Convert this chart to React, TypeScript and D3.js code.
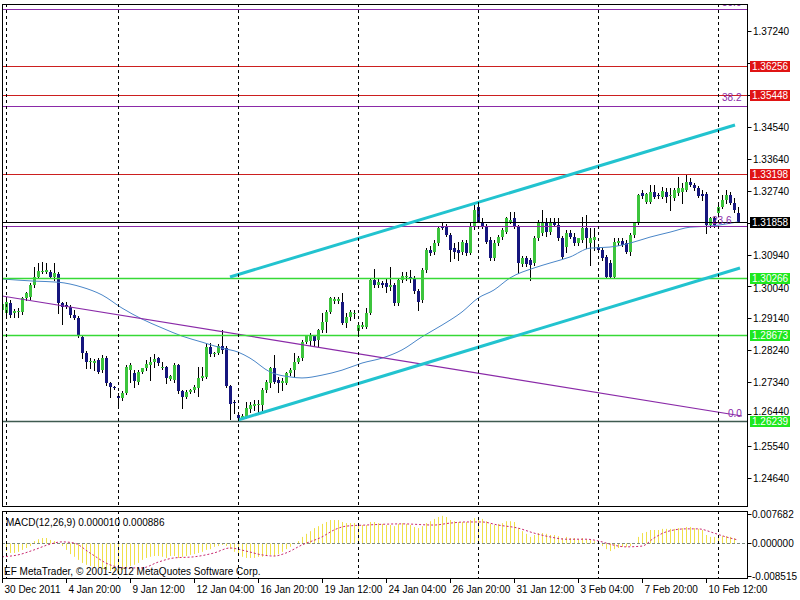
/**
 * MetaTrader-style H4 chart: candles, MA, S/R levels, fib levels, channel, MACD subwindow.
 * D3 into an svg via ref + useEffect, clear+redraw.
 */
import React, { useRef, useEffect } from 'react';
import * as d3 from 'd3';

const WIDTH = 800;
const HEIGHT = 600;
const FONT = 'Liberation Sans, Arial, sans-serif';

const MAIN = { left: 2, right: 747, top: 4, bottom: 506 };
const SUB = { top: 511, bottom: 578 };

// H4 bars, 30 Dec 2011 .. 10 Feb 2012
const barOpen = [
  1.2938, 1.2929, 1.2957, 1.2929, 1.2932, 1.2932, 1.2971, 1.2974, 1.3008, 1.3031,
  1.3047, 1.3045, 1.3045, 1.3031, 1.3039, 1.2957, 1.2952, 1.2946, 1.2924, 1.2915,
  1.2861, 1.2816, 1.2791, 1.2788, 1.2797, 1.2768, 1.2802, 1.2731, 1.2720, 1.2694,
  1.2689, 1.2703, 1.2768, 1.2760, 1.2734, 1.2762, 1.2774, 1.2782, 1.2790, 1.2802,
  1.2776, 1.2776, 1.2742, 1.2740, 1.2782, 1.2708, 1.2692, 1.2706, 1.2711, 1.2717,
  1.2745, 1.2748, 1.2833, 1.2813, 1.2816, 1.2835, 1.2830, 1.2723, 1.2678, 1.2641,
  1.2632, 1.2635, 1.2658, 1.2666, 1.2669, 1.2669, 1.2711, 1.2731, 1.2774, 1.2740,
  1.2731, 1.2731, 1.2759, 1.2768, 1.2790, 1.2802, 1.2847, 1.2850, 1.2864, 1.2852,
  1.2881, 1.2903, 1.2932, 1.2962, 1.2962, 1.2960, 1.2900, 1.2918, 1.2929, 1.2878,
  1.2889, 1.2889, 1.2929, 1.3022, 1.3008, 1.3013, 1.3013, 1.3002, 1.3008, 1.2957,
  1.3022, 1.3030, 1.3030, 1.3027, 1.2991, 1.2965, 1.3050, 1.3106, 1.3100, 1.3126,
  1.3174, 1.3171, 1.3148, 1.3112, 1.3106, 1.3100, 1.3126, 1.3098, 1.3171, 1.3227,
  1.3185, 1.3174, 1.3134, 1.3084, 1.3126, 1.3143, 1.3157, 1.3185, 1.3196, 1.3171,
  1.3067, 1.3084, 1.3078, 1.3070, 1.3140, 1.3154, 1.3185, 1.3157, 1.3185, 1.3177,
  1.3140, 1.3115, 1.3154, 1.3143, 1.3126, 1.3134, 1.3168, 1.3126, 1.3134, 1.3115,
  1.3106, 1.3087, 1.3070, 1.3030, 1.3126, 1.3132, 1.3126, 1.3100, 1.3148, 1.3182,
  1.3267, 1.3241, 1.3241, 1.3270, 1.3261, 1.3256, 1.3270, 1.3258, 1.3253, 1.3267,
  1.3270, 1.3275, 1.3298, 1.3289, 1.3281, 1.3264, 1.3264, 1.3177, 1.3196, 1.3210,
  1.3227, 1.3247, 1.3261, 1.3239, 1.3210,
];
const barHigh = [
  1.2966, 1.2974, 1.2966, 1.2940, 1.2943, 1.2974, 1.2988, 1.3014, 1.3059, 1.3070,
  1.3073, 1.3070, 1.3050, 1.3070, 1.3045, 1.2960, 1.2960, 1.2952, 1.2938, 1.2921,
  1.2867, 1.2822, 1.2802, 1.2799, 1.2802, 1.2811, 1.2808, 1.2734, 1.2723, 1.2703,
  1.2709, 1.2782, 1.2788, 1.2768, 1.2768, 1.2774, 1.2796, 1.2804, 1.2813, 1.2804,
  1.2790, 1.2779, 1.2754, 1.2787, 1.2785, 1.2711, 1.2711, 1.2714, 1.2725, 1.2776,
  1.2776, 1.2841, 1.2844, 1.2818, 1.2841, 1.2881, 1.2835, 1.2726, 1.2683, 1.2646,
  1.2644, 1.2678, 1.2678, 1.2683, 1.2683, 1.2717, 1.2740, 1.2776, 1.2810, 1.2748,
  1.2745, 1.2762, 1.2774, 1.2816, 1.2807, 1.2852, 1.2866, 1.2872, 1.2866, 1.2883,
  1.2929, 1.2938, 1.2974, 1.2974, 1.2974, 1.2985, 1.2929, 1.2937, 1.2937, 1.2900,
  1.2903, 1.2943, 1.3028, 1.3052, 1.3028, 1.3019, 1.3028, 1.3059, 1.3013, 1.3028,
  1.3044, 1.3044, 1.3050, 1.3033, 1.2996, 1.3055, 1.3112, 1.3117, 1.3134, 1.3171,
  1.3182, 1.3179, 1.3154, 1.3126, 1.3129, 1.3134, 1.3134, 1.3185, 1.3233, 1.3239,
  1.3196, 1.3179, 1.3143, 1.3134, 1.3148, 1.3168, 1.3199, 1.3213, 1.3213, 1.3177,
  1.3089, 1.3089, 1.3084, 1.3146, 1.3191, 1.3219, 1.3196, 1.3196, 1.3196, 1.3196,
  1.3146, 1.3163, 1.3163, 1.3154, 1.3140, 1.3199, 1.3205, 1.3168, 1.3168, 1.3120,
  1.3112, 1.3092, 1.3078, 1.3140, 1.3140, 1.3140, 1.3134, 1.3154, 1.3185, 1.3264,
  1.3275, 1.3267, 1.3289, 1.3289, 1.3267, 1.3284, 1.3281, 1.3281, 1.3281, 1.3312,
  1.3295, 1.3320, 1.3309, 1.3295, 1.3287, 1.3275, 1.3270, 1.3199, 1.3199, 1.3233,
  1.3261, 1.3275, 1.3270, 1.3253, 1.3227,
];
const barLow = [
  1.2921, 1.2918, 1.2918, 1.2918, 1.2918, 1.2926, 1.2966, 1.2969, 1.3002, 1.3028,
  1.3042, 1.3042, 1.3028, 1.3022, 1.2929, 1.2898, 1.2943, 1.2918, 1.2912, 1.2861,
  1.2802, 1.2774, 1.2774, 1.2768, 1.2760, 1.2763, 1.2726, 1.2692, 1.2714, 1.2664,
  1.2683, 1.2700, 1.2734, 1.2720, 1.2730, 1.2760, 1.2768, 1.2740, 1.2776, 1.2782,
  1.2771, 1.2731, 1.2740, 1.2734, 1.2703, 1.2661, 1.2689, 1.2703, 1.2706, 1.2694,
  1.2740, 1.2745, 1.2807, 1.2807, 1.2813, 1.2816, 1.2720, 1.2630, 1.2646, 1.2624,
  1.2630, 1.2632, 1.2650, 1.2655, 1.2650, 1.2650, 1.2706, 1.2720, 1.2731, 1.2706,
  1.2711, 1.2728, 1.2754, 1.2748, 1.2787, 1.2796, 1.2844, 1.2838, 1.2835, 1.2835,
  1.2875, 1.2875, 1.2929, 1.2957, 1.2957, 1.2898, 1.2889, 1.2909, 1.2915, 1.2872,
  1.2886, 1.2886, 1.2926, 1.3002, 1.3002, 1.3002, 1.2988, 1.2994, 1.2951, 1.2951,
  1.3016, 1.3022, 1.3016, 1.2985, 1.2937, 1.2960, 1.3044, 1.3092, 1.3095, 1.3120,
  1.3165, 1.3145, 1.3075, 1.3084, 1.3078, 1.3095, 1.3092, 1.3095, 1.3165, 1.3185,
  1.3168, 1.3126, 1.3078, 1.3078, 1.3120, 1.3137, 1.3154, 1.3182, 1.3168, 1.3041,
  1.3061, 1.3061, 1.3022, 1.3064, 1.3134, 1.3148, 1.3145, 1.3151, 1.3174, 1.3134,
  1.3084, 1.3100, 1.3140, 1.3120, 1.3120, 1.3129, 1.3112, 1.3064, 1.3106, 1.3100,
  1.3078, 1.3027, 1.3027, 1.3027, 1.3120, 1.3117, 1.3098, 1.3092, 1.3143, 1.3179,
  1.3253, 1.3239, 1.3239, 1.3253, 1.3253, 1.3253, 1.3242, 1.3219, 1.3247, 1.3261,
  1.3239, 1.3273, 1.3287, 1.3275, 1.3256, 1.3247, 1.3154, 1.3171, 1.3171, 1.3207,
  1.3224, 1.3239, 1.3236, 1.3213, 1.3185,
];
const barClose = [
  1.2955, 1.2960, 1.2924, 1.2935, 1.2935, 1.2971, 1.2986, 1.3008, 1.3031, 1.3047,
  1.3048, 1.3050, 1.3031, 1.3042, 1.2957, 1.2946, 1.2946, 1.2924, 1.2915, 1.2867,
  1.2816, 1.2791, 1.2794, 1.2794, 1.2763, 1.2802, 1.2731, 1.2720, 1.2719, 1.2689,
  1.2703, 1.2776, 1.2782, 1.2737, 1.2762, 1.2774, 1.2785, 1.2790, 1.2799, 1.2787,
  1.2777, 1.2745, 1.2751, 1.2782, 1.2708, 1.2692, 1.2706, 1.2711, 1.2720, 1.2745,
  1.2751, 1.2833, 1.2813, 1.2816, 1.2835, 1.2824, 1.2723, 1.2672, 1.2675, 1.2632,
  1.2638, 1.2661, 1.2669, 1.2672, 1.2672, 1.2711, 1.2734, 1.2774, 1.2734, 1.2731,
  1.2737, 1.2759, 1.2768, 1.2790, 1.2802, 1.2847, 1.2864, 1.2864, 1.2850, 1.2881,
  1.2903, 1.2932, 1.2971, 1.2968, 1.2968, 1.2900, 1.2918, 1.2932, 1.2930, 1.2894,
  1.2894, 1.2929, 1.3022, 1.3008, 1.3016, 1.3008, 1.3002, 1.3008, 1.2957, 1.3022,
  1.3033, 1.3033, 1.3025, 1.2991, 1.2960, 1.3050, 1.3106, 1.3098, 1.3126, 1.3168,
  1.3168, 1.3148, 1.3106, 1.3100, 1.3098, 1.3129, 1.3098, 1.3171, 1.3219, 1.3185,
  1.3171, 1.3129, 1.3084, 1.3126, 1.3143, 1.3163, 1.3196, 1.3191, 1.3171, 1.3070,
  1.3084, 1.3067, 1.3064, 1.3140, 1.3185, 1.3185, 1.3157, 1.3185, 1.3177, 1.3140,
  1.3087, 1.3154, 1.3143, 1.3126, 1.3140, 1.3168, 1.3140, 1.3140, 1.3143, 1.3106,
  1.3084, 1.3030, 1.3030, 1.3129, 1.3132, 1.3120, 1.3100, 1.3148, 1.3182, 1.3261,
  1.3258, 1.3264, 1.3270, 1.3256, 1.3258, 1.3273, 1.3256, 1.3261, 1.3275, 1.3281,
  1.3281, 1.3298, 1.3289, 1.3281, 1.3258, 1.3258, 1.3177, 1.3196, 1.3177, 1.3227,
  1.3247, 1.3261, 1.3239, 1.3219, 1.3186,
];

// moving average, sampled at bars
const maBars = [0, 8, 14, 20, 25, 30, 35, 40, 45, 50, 55, 59, 62, 67, 72, 75, 80, 85, 90, 95, 100, 105, 110, 115, 119, 123, 127, 133, 137, 142, 147, 152, 157, 162, 167, 172, 177, 184];
const maValues = [1.3025, 1.3019, 1.3016, 1.3002, 1.2980, 1.2943, 1.2912, 1.2887, 1.2864, 1.2847, 1.2830, 1.2819, 1.2802, 1.2763, 1.2749, 1.2746, 1.2754, 1.2768, 1.2788, 1.2802, 1.2825, 1.2862, 1.2895, 1.2932, 1.2971, 1.2994, 1.3028, 1.3056, 1.3070, 1.3087, 1.3112, 1.3115, 1.3126, 1.3143, 1.3157, 1.3171, 1.3174, 1.3186];

// MACD(12,26,9) main per bar
const macdMain = [
  -0.0012, -0.0020, -0.0025, -0.0025, -0.0022, -0.0017, -0.0012, -0.0007, 0.0006, 0.0011,
  0.0014, 0.0014, 0.0009, 0.0006, 0.0001, -0.0007, -0.0017, -0.0028, -0.0035, -0.0043,
  -0.0051, -0.0056, -0.0059, -0.0062, -0.0062, -0.0067, -0.0069, -0.0072, -0.0072, -0.0075,
  -0.0069, -0.0062, -0.0059, -0.0056, -0.0051, -0.0043, -0.0038, -0.0035, -0.0033, -0.0033,
  -0.0035, -0.0038, -0.0033, -0.0033, -0.0038, -0.0035, -0.0033, -0.0030, -0.0028, -0.0025,
  -0.0022, -0.0017, -0.0015, -0.0009, -0.0007, -0.0004, -0.0007, -0.0015, -0.0022, -0.0030,
  -0.0035, -0.0038, -0.0038, -0.0038, -0.0035, -0.0035, -0.0033, -0.0030, -0.0033, -0.0028,
  -0.0022, -0.0015, -0.0009, -0.0002, 0.0006, 0.0017, 0.0025, 0.0032, 0.0040, 0.0045,
  0.0051, 0.0056, 0.0061, 0.0061, 0.0061, 0.0056, 0.0053, 0.0053, 0.0053, 0.0048,
  0.0048, 0.0048, 0.0056, 0.0056, 0.0053, 0.0051, 0.0048, 0.0048, 0.0045, 0.0051,
  0.0053, 0.0051, 0.0048, 0.0043, 0.0040, 0.0045, 0.0053, 0.0058, 0.0064, 0.0069,
  0.0072, 0.0069, 0.0061, 0.0058, 0.0056, 0.0056, 0.0056, 0.0061, 0.0066, 0.0066,
  0.0064, 0.0058, 0.0051, 0.0048, 0.0051, 0.0053, 0.0058, 0.0058, 0.0056, 0.0040,
  0.0032, 0.0025, 0.0017, 0.0022, 0.0027, 0.0027, 0.0025, 0.0022, 0.0022, 0.0019,
  0.0014, 0.0017, 0.0014, 0.0014, 0.0011, 0.0014, 0.0011, 0.0009, 0.0006, 0.0001,
  -0.0007, -0.0015, -0.0020, -0.0015, -0.0012, -0.0009, -0.0009, -0.0007, 0.0001, 0.0017,
  0.0027, 0.0030, 0.0035, 0.0035, 0.0035, 0.0038, 0.0038, 0.0038, 0.0038, 0.0040,
  0.0040, 0.0043, 0.0043, 0.0040, 0.0038, 0.0035, 0.0022, 0.0017, 0.0017, 0.0019,
  0.0019, 0.0019, 0.0017, 0.0014, 0.00001,
];
// signal line, sampled at bars
const signalBars = [0, 4, 8, 12, 15, 18, 22, 27, 31, 35, 39, 43, 48, 53, 57, 61, 65, 68, 71, 75, 80, 83, 86, 91, 100, 108, 112, 116, 120, 124, 129, 133, 137, 141, 146, 150, 152, 156, 160, 163, 166, 171, 174, 178, 181, 184];
const signalValues = [-0.0035, -0.0030, -0.0017, -0.0002, 0.0004, 0.0001, -0.0025, -0.0056, -0.0064, -0.0064, -0.0049, -0.0038, -0.0035, -0.0025, -0.0012, -0.0020, -0.0030, -0.0033, -0.0025, -0.0004, 0.0017, 0.0035, 0.0045, 0.0048, 0.0051, 0.0048, 0.0053, 0.0056, 0.0056, 0.0048, 0.0040, 0.0027, 0.0017, 0.0011, 0.0011, 0.0004, -0.0002, -0.0009, -0.0007, 0.0014, 0.0030, 0.0038, 0.0038, 0.0027, 0.0017, 0.0009];

const timeLabels = ['30 Dec 2011', '4 Jan 20:00', '9 Jan 12:00', '12 Jan 04:00', '16 Jan 20:00', '19 Jan 12:00', '24 Jan 04:00', '26 Jan 20:00', '31 Jan 12:00', '3 Feb 04:00', '7 Feb 20:00', '10 Feb 12:00'];
const timeLabelBars = [0, 16, 32, 48, 64, 80, 96, 112, 128, 144, 160, 176];
const gridBars = [1, 29, 59, 89, 119, 149, 179];
const priceTicks = [1.3724, 1.3634, 1.3544, 1.3454, 1.3364, 1.3274, 1.3184, 1.3094, 1.3004, 1.2914, 1.2824, 1.2734, 1.2644, 1.2554, 1.2464];
const macdTicks = [0.007682, 0, -0.008515];
const macdTickLabels = ['0.007682', '0.000000', '-0.008515'];

const redLevels = [1.36256, 1.35448, 1.33198];
const greenLevels = [1.30266, 1.28673];
const supportLevel = 1.26239;
const bidPrice = 1.31858;
const fibLabels = ['0.0', '23.6', '38.2', '50.0'];
const fibPrices = [1.26239, 1.31731, 1.35128, 1.37874];
const channelUpper: [number, number][] = [[57, 1.30306], [183.25, 1.34591]];
const channelLower: [number, number][] = [[59, 1.26275], [184.5, 1.3056]];
const fibTrend: [number, number][] = [[0, 1.2977], [185, 1.26388]];

const RED = '#cc1f1f';
const GREEN = '#36d936';
const PURPLE = '#8a2aa8';
const CYAN = '#22c3cf';

export default function App() {
  const svgRef = useRef<SVGSVGElement>(null);

  useEffect(() => {
    if (!svgRef.current) return;
    const svg = d3.select(svgRef.current);
    svg.selectAll('*').remove();

    const x = d3.scaleLinear().domain([0, 184]).range([2, 738]);
    const y = d3.scaleLinear().domain([1.23851, 1.38001]).range([MAIN.bottom, MAIN.top]);
    const ym = d3.scaleLinear().domain([-0.008515, 0.007682]).range([576, 514]);
    const px = (i: number) => Math.round(x(i));
    const py = (p: number) => Math.round(y(p)) + 0.5;

    svg.append('rect').attr('width', WIDTH).attr('height', HEIGHT).attr('fill', '#fff');

    const defs = svg.append('defs');
    defs.append('clipPath').attr('id', 'main-clip').append('rect')
      .attr('x', MAIN.left).attr('y', MAIN.top)
      .attr('width', MAIN.right - MAIN.left).attr('height', MAIN.bottom - MAIN.top);
    defs.append('clipPath').attr('id', 'sub-clip').append('rect')
      .attr('x', MAIN.left).attr('y', SUB.top)
      .attr('width', MAIN.right - MAIN.left).attr('height', SUB.bottom - SUB.top);

    const main = svg.append('g').attr('clip-path', 'url(#main-clip)');
    const sub = svg.append('g').attr('clip-path', 'url(#sub-clip)');

    // vertical dashed grid
    gridBars.forEach((b) => {
      [[MAIN.top, MAIN.bottom], [SUB.top, SUB.bottom]].forEach(([t, bt]) => {
        svg.append('line')
          .attr('x1', px(b) + 0.5).attr('x2', px(b) + 0.5)
          .attr('y1', t).attr('y2', bt)
          .attr('stroke', '#000').attr('stroke-dasharray', '3,3');
      });
    });

    // candles
    barOpen.forEach((o, i) => {
      const c = barClose[i];
      const cx = px(i);
      main.append('line')
        .attr('x1', cx + 0.5).attr('x2', cx + 0.5)
        .attr('y1', Math.round(y(barHigh[i]))).attr('y2', Math.round(y(barLow[i])) + 1)
        .attr('stroke', '#000');
      const top = Math.round(y(Math.max(o, c)));
      const bot = Math.round(y(Math.min(o, c)));
      main.append('rect')
        .attr('x', cx - 1).attr('y', top)
        .attr('width', 3).attr('height', Math.max(1, bot - top))
        .attr('fill', c > o ? '#3cc43c' : c < o ? '#16167e' : '#000');
    });

    // moving average
    const maLine = d3.line<number>()
      .x((_, k) => x(maBars[k]))
      .y((v) => y(v))
      .curve(d3.curveMonotoneX);
    main.append('path').attr('d', maLine(maValues) ?? '')
      .attr('fill', 'none').attr('stroke', '#4a86c8').attr('stroke-width', 1);

    // fib levels
    fibPrices.forEach((p) => {
      main.append('line').attr('x1', MAIN.left).attr('x2', MAIN.right)
        .attr('y1', py(p)).attr('y2', py(p)).attr('stroke', PURPLE);
    });
    main.append('line')
      .attr('x1', x(fibTrend[0][0])).attr('y1', y(fibTrend[0][1]))
      .attr('x2', x(fibTrend[1][0])).attr('y2', y(fibTrend[1][1]))
      .attr('stroke', PURPLE).attr('stroke-width', 1.2);

    // horizontal levels
    redLevels.forEach((p) => {
      main.append('line').attr('x1', MAIN.left).attr('x2', MAIN.right)
        .attr('y1', py(p)).attr('y2', py(p)).attr('stroke', RED);
    });
    greenLevels.forEach((p) => {
      main.append('line').attr('x1', MAIN.left).attr('x2', MAIN.right)
        .attr('y1', py(p)).attr('y2', py(p)).attr('stroke', GREEN).attr('stroke-width', 1.3);
    });
    main.append('line').attr('x1', MAIN.left).attr('x2', MAIN.right)
      .attr('y1', py(supportLevel)).attr('y2', py(supportLevel))
      .attr('stroke', '#3e5a50').attr('stroke-width', 1.6);
    main.append('line').attr('x1', MAIN.left).attr('x2', MAIN.right)
      .attr('y1', py(bidPrice)).attr('y2', py(bidPrice)).attr('stroke', '#000');

    // channel
    [channelUpper, channelLower].forEach((seg) => {
      main.append('line')
        .attr('x1', x(seg[0][0])).attr('y1', y(seg[0][1]))
        .attr('x2', x(seg[1][0])).attr('y2', y(seg[1][1]))
        .attr('stroke', CYAN).attr('stroke-width', 3);
    });

    // fib labels (the 50.0 one sits under the top edge, as in MT4)
    const fibLabelX = [728, 712, 722, 722];
    const fibLabelDy = [-4, -2, -5, -3];
    fibLabels.forEach((t, k) => {
      main.append('text')
        .attr('x', fibLabelX[k]).attr('y', y(fibPrices[k]) + fibLabelDy[k])
        .attr('fill', PURPLE).attr('font-size', '10px').attr('font-family', FONT)
        .text(t);
    });

    // MACD subwindow
    const y0 = Math.round(ym(0)) + 0.5;
    macdMain.forEach((v, i) => {
      sub.append('line')
        .attr('x1', px(i) + 0.5).attr('x2', px(i) + 0.5)
        .attr('y1', y0).attr('y2', ym(v))
        .attr('stroke', '#f0e04a');
    });
    sub.append('line').attr('x1', MAIN.left).attr('x2', MAIN.right)
      .attr('y1', y0).attr('y2', y0)
      .attr('stroke', '#7c8c80').attr('stroke-dasharray', '3,2');
    const sigLine = d3.line<number>()
      .x((_, k) => x(signalBars[k]))
      .y((v) => ym(v))
      .curve(d3.curveMonotoneX);
    sub.append('path').attr('d', sigLine(signalValues) ?? '')
      .attr('fill', 'none').attr('stroke', '#c8286e').attr('stroke-dasharray', '2,2');

    sub.append('text').attr('x', 6).attr('y', 526)
      .attr('font-size', '10px').attr('font-family', FONT).attr('fill', '#000')
      .text('MACD(12,26,9) 0.000010 0.000886');
    sub.append('text').attr('x', 4).attr('y', 575)
      .attr('font-size', '10px').attr('font-family', FONT).attr('fill', '#000')
      .text('EF MetaTrader, © 2001-2012 MetaQuotes Software Corp.');

    // frames
    svg.append('rect').attr('x', MAIN.left + 0.5).attr('y', MAIN.top + 0.5)
      .attr('width', MAIN.right - MAIN.left).attr('height', MAIN.bottom - MAIN.top)
      .attr('fill', 'none').attr('stroke', '#000');
    svg.append('rect').attr('x', MAIN.left + 0.5).attr('y', SUB.top + 0.5)
      .attr('width', MAIN.right - MAIN.left).attr('height', SUB.bottom - SUB.top)
      .attr('fill', 'none').attr('stroke', '#000');

    // price axis; labels hidden under a tag are skipped, near ones nudged clear
    const axisX = MAIN.right + 0.5;
    const tagPrices = [...redLevels, ...greenLevels, supportLevel, bidPrice];
    priceTicks.forEach((p) => {
      svg.append('line').attr('x1', axisX).attr('x2', axisX + 4)
        .attr('y1', py(p)).attr('y2', py(p)).attr('stroke', '#000');
      const ty = y(p);
      let base = ty + 4;
      let hidden = false;
      tagPrices.forEach((tp) => {
        const cy = Math.round(y(tp));
        const d = ty - cy;
        if (Math.abs(d) < 4) hidden = true;
        else if (d > 0 && d < 12) base = cy + 6 + 8;
        else if (d < 0 && d > -12) base = cy - 6;
      });
      if (hidden) return;
      svg.append('text').attr('x', 753).attr('y', base)
        .attr('font-size', '10px').attr('font-family', FONT).attr('fill', '#000')
        .text(p.toFixed(5));
    });

    const tag = (p: number, bg: string) => {
      const cy = Math.round(y(p));
      svg.append('rect').attr('x', 750).attr('y', cy - 5)
        .attr('width', 40).attr('height', 11).attr('fill', bg);
      svg.append('text').attr('x', 752).attr('y', cy + 4)
        .attr('font-size', '10px').attr('font-family', FONT).attr('fill', '#fff')
        .text(p.toFixed(5));
    };
    redLevels.forEach((p) => tag(p, '#e01414'));
    greenLevels.forEach((p) => tag(p, '#1ee81e'));
    tag(supportLevel, '#1ee81e');
    tag(bidPrice, '#000');

    // MACD axis
    macdTicks.forEach((v, k) => {
      const ty = Math.round(ym(v)) + 0.5;
      svg.append('line').attr('x1', axisX).attr('x2', axisX + 4)
        .attr('y1', ty).attr('y2', ty).attr('stroke', '#000');
      svg.append('text').attr('x', 752).attr('y', ym(v) + 4)
        .attr('font-size', '10px').attr('font-family', FONT).attr('fill', '#000')
        .text(macdTickLabels[k]);
    });

    // time axis
    timeLabelBars.forEach((b, k) => {
      const tx = px(b) + 0.5;
      svg.append('line').attr('x1', tx).attr('x2', tx)
        .attr('y1', SUB.bottom).attr('y2', SUB.bottom + 5).attr('stroke', '#000');
      svg.append('text').attr('x', tx + 2).attr('y', 593)
        .attr('font-size', '10px').attr('font-family', FONT).attr('fill', '#000')
        .text(timeLabels[k]);
    });
  }, []);

  return (
    <svg
      ref={svgRef}
      width={WIDTH}
      height={HEIGHT}
      style={{ position: 'absolute', left: 0, top: 0, display: 'block' }}
    />
  );
}
